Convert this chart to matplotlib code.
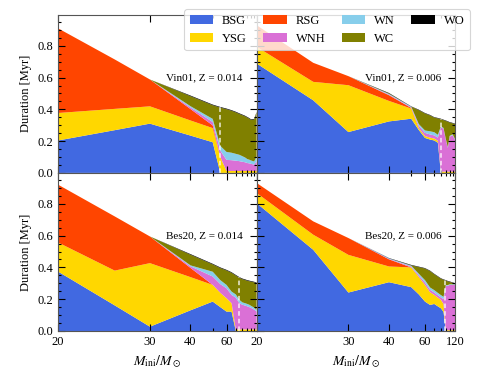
import numpy as np
import matplotlib
matplotlib.use("Agg")
import matplotlib.pyplot as plt
from matplotlib.ticker import FixedLocator, FixedFormatter, MultipleLocator
from matplotlib.patches import Patch

plt.rcParams['font.family'] = ['Liberation Serif', 'DejaVu Serif']
plt.rcParams['mathtext.fontset'] = 'stix'

masses = [20, 25, 30, 40, 50, 55, 60, 65, 70, 75, 80, 85, 90, 95, 100, 110, 120]
phases = ['BSG', 'YSG', 'RSG', 'WNH', 'WN', 'WC', 'WO']
phase_colors = ['#4169E1', '#FFD700', '#FF4500', '#DA70D6', '#87CEEB', '#808000', '#000000']

# Vin01, Z = 0.014
vin014_bsg = [.204, .269, .310, .235, .193, 0, 0, 0, 0, 0, 0, 0, 0, 0, 0, 0, 0]
vin014_ysg = [.173, .134, .109, .095, .089, .100, .012, .012, .012, .012, .012, .012, .012, .012, .012, .012, .012]
vin014_rsg = [.533, .311, .169, .072, .017, 0, 0, 0, 0, 0, 0, 0, 0, 0, 0, 0, 0]
vin014_wnh = [0, 0, 0, .010, .021, .040, .070, .068, .065, .062, .058, .055, .050, .048, .045, .040, .060]
vin014_wn = [0, 0, 0, .008, .020, .030, .050, .047, .043, .040, .035, .030, .025, .023, .021, .020, .030]
vin014_wc = [0, 0, 0, .063, .086, .241, .269, .264, .261, .257, .258, .259, .261, .258, .255, .264, .277]
vin014_wo = [0, 0, 0, .004, .004, .004, .004, .004, .004, .004, .004, .004, .004, .004, .004, .004, .004]

# Vin01, Z = 0.006
vin006_bsg = [.689, .457, .257, .324, .341, .270, .220, .210, .204, .190, 0, 0, 0, 0, 0, 0, 0]
vin006_ysg = [.105, .116, .295, .129, .064, .012, .012, .012, .012, .012, .008, .008, .008, .008, .008, .008, .008]
vin006_rsg = [.136, .120, .057, .036, .004, 0, 0, 0, 0, 0, 0, 0, 0, 0, 0, 0, 0]
vin006_wnh = [0, 0, 0, .004, .004, .015, .020, .020, .020, .020, .280, .270, .200, .150, .220, .230, .200]
vin006_wn = [0, 0, 0, .004, .004, .010, .015, .020, .020, .018, .005, .005, .005, .005, .005, .005, .005]
vin006_wc = [0, 0, 0, .003, 0, .088, .107, .100, .092, .103, .045, .049, .114, .159, .084, .069, .094]
vin006_wo = [0, 0, 0, .003, .002, .003, .003, .003, .003, .003, .003, .003, .003, .003, .003, .003, .003]

# Bes20, Z = 0.014
bes014_bsg = [.374, .161, .027, .130, .185, .150, .122, .122, 0, 0, 0, 0, 0, 0, 0, 0, 0]
bes014_ysg = [.183, .219, .400, .209, .105, .090, .084, .053, .010, .010, .010, .010, .010, .010, .010, .010, .010]
bes014_rsg = [.364, .341, .168, .058, 0, 0, 0, 0, 0, 0, 0, 0, 0, 0, 0, 0, 0]
bes014_wnh = [0, 0, 0, .010, .053, .055, .063, .052, .200, .165, .155, .150, .145, .140, .135, .125, .112]
bes014_wn = [0, 0, 0, .006, .030, .025, .021, .021, .020, .021, .015, .015, .015, .015, .013, .012, .011]
bes014_wc = [0, 0, 0, .067, .046, .076, .091, .118, .119, .139, .146, .146, .146, .148, .152, .159, .168]
bes014_wo = [0, 0, 0, .004, .004, .004, .004, .004, .004, .004, .004, .004, .004, .004, .004, .004, .004]

# Bes20, Z = 0.006
bes006_bsg = [.805, .511, .242, .307, .276, .230, .185, .164, .170, .155, .143, .120, 0, 0, 0, 0, 0]
bes006_ysg = [.064, .095, .237, .099, .124, .110, .105, .080, .057, .055, .053, .050, .005, .005, .005, .005, .005]
bes006_rsg = [.063, .084, .106, .045, 0, 0, 0, 0, 0, 0, 0, 0, 0, 0, 0, 0, 0]
bes006_wnh = [0, 0, 0, .003, .006, .010, .015, .015, .015, .015, .015, .030, .280, .280, .285, .285, .285]
bes006_wn = [0, 0, 0, .003, .005, .010, .015, .015, .015, .015, .015, .015, .004, .004, .004, .004, .004]
bes006_wc = [0, 0, 0, 0, .002, .042, .073, .103, .100, .102, .103, .107, .028, .023, .015, .009, .004]
bes006_wo = [0, 0, 0, .002, .003, .003, .003, .003, .003, .003, .003, .003, .003, .003, .003, .003, .003]

panel_labels = ['Vin01, Z = 0.014', 'Vin01, Z = 0.006', 'Bes20, Z = 0.014', 'Bes20, Z = 0.006']
dashed_mass = [55, 80, 75, 88]
panel_data = [
    [vin014_bsg, vin014_ysg, vin014_rsg, vin014_wnh, vin014_wn, vin014_wc, vin014_wo],
    [vin006_bsg, vin006_ysg, vin006_rsg, vin006_wnh, vin006_wn, vin006_wc, vin006_wo],
    [bes014_bsg, bes014_ysg, bes014_rsg, bes014_wnh, bes014_wn, bes014_wc, bes014_wo],
    [bes006_bsg, bes006_ysg, bes006_rsg, bes006_wnh, bes006_wn, bes006_wc, bes006_wo],
]

major_ticks = [20, 30, 40, 60, 120]
minor_ticks = [50, 70, 80, 90, 100, 110]
left_labels = ['20', '30', '40', '60', '']
right_labels = ['20', '30', '40', '60', '120']
y_ticks = [0, 0.2, 0.4, 0.6, 0.8]
y_labels = ['0.0', '0.2', '0.4', '0.6', '0.8']

IMF_SLOPE = 1.35


def fwd(m):
    m = np.asarray(m, dtype=float)
    return -np.power(np.clip(m, 1e-3, None), -IMF_SLOPE)


def inv(y):
    y = np.asarray(y, dtype=float)
    return np.power(np.clip(-y, 1e-12, None), -1.0 / IMF_SLOPE)


fig = plt.figure(figsize=(4.8, 3.8), dpi=100)
gs = fig.add_gridspec(2, 2, left=0.121, right=0.948, top=0.961, bottom=0.129,
                      wspace=0, hspace=0)
axes = [fig.add_subplot(gs[i // 2, i % 2]) for i in range(4)]

fs_tick = 9
fs_text = 8
for i, ax in enumerate(axes):
    ys = [np.array(s, dtype=float) for s in panel_data[i]]
    ax.set_xscale('function', functions=(fwd, inv))
    ax.stackplot(masses, *ys, colors=phase_colors, linewidth=0)
    total = np.sum(ys, axis=0)
    top = np.interp(fwd(dashed_mass[i]), fwd(masses), total)
    ax.plot([dashed_mass[i], dashed_mass[i]], [0, top], color='white',
            ls=(0, (3, 2)), lw=1.1, alpha=0.85)
    ax.set_xlim(20, 120)
    ax.set_ylim(0, 0.995)
    ax.xaxis.set_major_locator(FixedLocator(major_ticks))
    ax.xaxis.set_minor_locator(FixedLocator(minor_ticks))
    ax.yaxis.set_major_locator(FixedLocator(y_ticks))
    ax.yaxis.set_minor_locator(MultipleLocator(0.05))
    ax.tick_params(which='both', direction='in', top=True, right=True,
                   labelsize=fs_tick, width=0.8, colors='black')
    ax.tick_params(which='major', length=5)
    ax.tick_params(which='minor', length=2.5)
    for sp in ax.spines.values():
        sp.set_linewidth(0.8)
        sp.set_color('#555555')
    ax.text(0.93, 0.60, panel_labels[i], transform=ax.transAxes, ha='right',
            va='center', fontsize=fs_text)
    if i % 2 == 0:
        ax.xaxis.set_major_formatter(FixedFormatter(left_labels))
        ax.set_ylabel('Duration [Myr]', fontsize=9)
        ax.yaxis.set_major_formatter(FixedFormatter(y_labels))
    else:
        ax.xaxis.set_major_formatter(FixedFormatter(right_labels))
        ax.tick_params(labelleft=False)
    ax.xaxis.set_minor_formatter(FixedFormatter([]))
    if i < 2:
        ax.tick_params(labelbottom=False)
    else:
        ax.set_xlabel(r'$M_{\rm ini}/M_\odot$', fontsize=10)

handles = [Patch(facecolor=c, edgecolor='none') for c in phase_colors]
leg = fig.legend(handles, phases, loc='upper right', bbox_to_anchor=(0.992, 0.992),
                 ncol=4, fontsize=9, frameon=True, fancybox=True,
                 handlelength=1.9, handleheight=0.7, columnspacing=1.3,
                 handletextpad=0.7, labelspacing=0.45, borderpad=0.45)
leg.get_frame().set_edgecolor('#cccccc')
leg.get_frame().set_linewidth(0.8)

fig.savefig('out.png', dpi=100)
